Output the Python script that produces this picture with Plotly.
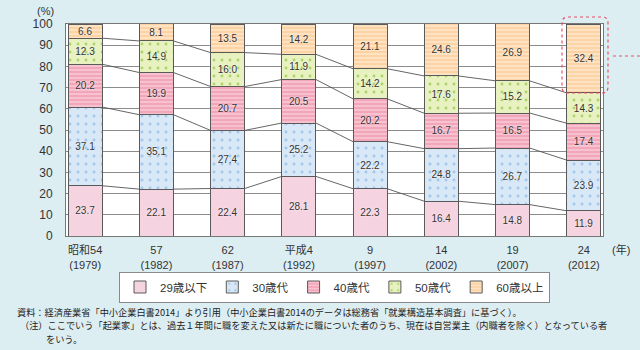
import plotly.graph_objects as go
import numpy as np

categories = ["昭和54<br>(1979)", "57<br>(1982)", "62<br>(1987)", "平成4<br>(1992)",
              "9<br>(1997)", "14<br>(2002)", "19<br>(2007)", "24<br>(2012)"]
series_names = ["29歳以下", "30歳代", "40歳代", "50歳代", "60歳以上"]
age_29 = [23.7, 22.1, 22.4, 28.1, 22.3, 16.4, 14.8, 11.9]
age_30 = [37.1, 35.1, 27.4, 25.2, 22.2, 24.8, 26.7, 23.9]
age_40 = [20.2, 19.9, 20.7, 20.5, 20.2, 16.7, 16.5, 17.4]
age_50 = [12.3, 14.9, 16.0, 11.9, 14.2, 17.6, 15.2, 14.3]
age_60 = [6.6, 8.1, 13.5, 14.2, 21.1, 24.6, 26.9, 32.4]
y_ticks = [0, 10, 20, 30, 40, 50, 60, 70, 80, 90, 100]

all_series = [age_29, age_30, age_40, age_50, age_60]
styles = [
    dict(bg="#f6d3e0", fg="#f6d3e0", shape="", size=8, sol=0.3),
    dict(bg="#d8e8f6", fg="#a3c6ea", shape=".", size=8, sol=0.1),
    dict(bg="#f3a5ba", fg="#f8c6d3", shape="-", size=4, sol=0.45),
    dict(bg="#e7f2c0", fg="#b0d46c", shape=".", size=8, sol=0.1),
    dict(bg="#fdd3a3", fg="#fee5c8", shape="-", size=4, sol=0.45),
]

FONT = "Liberation Sans, Arial, Noto Sans CJK JP"
W = 0.48
x = list(range(len(categories)))

fig = go.Figure()

for name, vals, st in zip(series_names, all_series, styles):
    fig.add_trace(go.Bar(
        x=x, y=vals, name=name, width=W,
        marker=dict(color=st["bg"], line=dict(color="#5a5a5a", width=1),
                    pattern=dict(shape=st["shape"], fgcolor=st["fg"], bgcolor=st["bg"],
                                 size=st["size"], solidity=st["sol"], fillmode="replace")),
        text=[f"{v:.1f}" for v in vals], textposition="inside", insidetextanchor="middle",
        textangle=0, constraintext="none",
        textfont=dict(size=10, color="#333333", family=FONT, shadow="0px 0px 2px white"),
        hoverinfo="skip",
    ))

# connecting lines between boundaries
cum = np.cumsum(np.array(all_series), axis=0)
for k in range(len(all_series) - 1):
    lx, ly = [], []
    for i in range(len(x) - 1):
        lx += [x[i] + W / 2, x[i + 1] - W / 2, None]
        ly += [cum[k][i], cum[k][i + 1], None]
    fig.add_trace(go.Scatter(x=lx, y=ly, mode="lines", line=dict(color="#555555", width=0.9),
                             showlegend=False, hoverinfo="skip"))

L, R, T, B = 66, 37, 24, 114
PW, PH = 640 - L - R, 350 - T - B


def px(xp):
    return (xp - L) / PW


def py(yp):
    return (350 - B - yp) / PH


fig.update_layout(
    width=640, height=350,
    margin=dict(l=L, r=R, t=T, b=B, pad=0),
    barmode="stack",
    paper_bgcolor="#ddeef3", plot_bgcolor="white",
    font=dict(family=FONT, size=11, color="#333333"),
    showlegend=True,
    legend=dict(orientation="h", x=0.5, xanchor="center", y=py(287), yanchor="middle",
                bgcolor="white", bordercolor="#8a8a8a", borderwidth=1,
                font=dict(size=11.5, color="#333333", family=FONT),
                itemwidth=30, traceorder="normal"),
    xaxis=dict(tickmode="array", tickvals=x, ticktext=categories, range=[-0.27, 7.27],
               showgrid=False, showline=True, linecolor="#777777", linewidth=1, mirror=True,
               ticks="", ticklabelstandoff=4, tickfont=dict(size=11)),
    yaxis=dict(tickmode="array", tickvals=y_ticks, range=[0, 100],
               showgrid=True, gridcolor="#8c8c8c", gridwidth=1,
               showline=True, linecolor="#777777", linewidth=1, mirror=True,
               ticks="", ticklabelstandoff=10, tickfont=dict(size=12), zeroline=False),
    hovermode=False,
)

# red dashed rounded rectangle around last top segment
x0, x1, y0, y1 = px(562), px(608), py(93), py(17)
rx, ry = 6 / PW, 6 / PH
path = (f"M {x0+rx},{y1} L {x1-rx},{y1} Q {x1},{y1} {x1},{y1-ry} "
        f"L {x1},{y0+ry} Q {x1},{y0} {x1-rx},{y0} L {x0+rx},{y0} "
        f"Q {x0},{y0} {x0},{y0+ry} L {x0},{y1-ry} Q {x0},{y1} {x0+rx},{y1} Z")
fig.add_shape(type="path", path=path, xref="paper", yref="paper",
              line=dict(color="#e8506a", width=1.2, dash="dot"))
fig.add_shape(type="line", xref="paper", yref="paper", x0=px(613), x1=px(640),
              y0=py(56), y1=py(56), line=dict(color="#e8506a", width=1.2, dash="dot"))

ann = [
    ("(%)", px(45), py(11), "center", 11),
    ("(年)", px(621), py(249), "center", 11),
]
for t, ax_, ay_, anc, fs in ann:
    fig.add_annotation(text=t, x=ax_, y=ay_, xref="paper", yref="paper", showarrow=False,
                       xanchor=anc, yanchor="middle", font=dict(size=fs, color="#333333"))

notes = [
    ("資料：経済産業省「中小企業白書2014」より引用（中小企業白書2014のデータは総務省「就業構造基本調査」に基づく）。", 15, 311.5),
    ("（注）ここでいう「起業家」とは、過去１年間に職を変えた又は新たに職についた者のうち、現在は自営業主（内職者を除く）となっている者", 18, 325),
    ("をいう。", 44, 338.5),
]
for t, xp, yp in notes:
    fig.add_annotation(text=t, x=px(xp), y=py(yp), xref="paper", yref="paper", showarrow=False,
                       xanchor="left", yanchor="middle",
                       font=dict(size=9.2, color="#222222", family="Noto Sans CJK JP"))

fig.write_html("out.html")
